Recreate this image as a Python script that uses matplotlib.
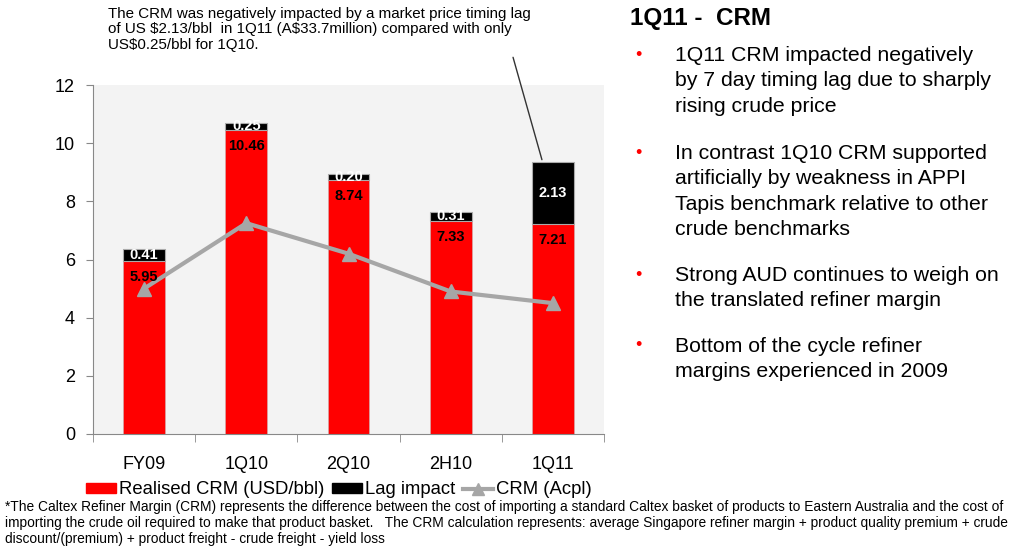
import matplotlib.pyplot as plt
from matplotlib.patches import Patch
from matplotlib.lines import Line2D

plt.rcParams['font.family'] = ['Liberation Sans', 'DejaVu Sans']
plt.rcParams['text.parse_math'] = False

periods = ['FY09', '1Q10', '2Q10', '2H10', '1Q11']
realised = [5.95, 10.46, 8.74, 7.33, 7.21]
lag = [0.41, 0.25, 0.20, 0.31, 2.13]
crm_acpl = [5.0, 7.25, 6.2, 4.9, 4.5]

bullets = [
    "1Q11 CRM impacted negatively\nby 7 day timing lag due to sharply\nrising crude price",
    "In contrast 1Q10 CRM supported\nartificially by weakness in APPI\nTapis benchmark relative to other\ncrude benchmarks",
    "Strong AUD continues to weigh on\nthe translated refiner margin",
    "Bottom of the cycle refiner\nmargins experienced in 2009",
]
note = ("The CRM was negatively impacted by a market price timing lag\n"
        "of US $2.13/bbl  in 1Q11 (A$33.7million) compared with only\n"
        "US$0.25/bbl for 1Q10.")
footnote = ("*The Caltex Refiner Margin (CRM) represents the difference between the cost of importing a standard Caltex basket of products to Eastern Australia and the cost of\n"
            "importing the crude oil required to make that product basket.   The CRM calculation represents: average Singapore refiner margin + product quality premium + crude\n"
            "discount/(premium) + product freight - crude freight - yield loss")

W, H = 1016, 548
fig = plt.figure(figsize=(W / 100, H / 100), dpi=100)
ax = fig.add_axes([93 / W, (H - 434) / H, (604 - 93) / W, (434 - 85) / H])
ax.set_facecolor('#f3f3f3')

x = list(range(len(periods)))
bw = 0.41
ax.bar(x, realised, bw, color='#ff0000', edgecolor='#d9a0a0', linewidth=0.6, zorder=2)
ax.bar(x, lag, bw, bottom=realised, color='#000000', edgecolor='#aaaaaa', linewidth=0.8, zorder=2)
ax.plot(x, crm_acpl, color='#a6a6a6', lw=3, marker='^', ms=10, zorder=4)

for i in x:
    ax.text(i, realised[i] - 0.3, f"{realised[i]:.2f}", ha='center', va='top',
            fontsize=10.5, fontweight='bold', color='black', zorder=5)
    ax.text(i, realised[i] + lag[i] / 2, f"{lag[i]:.2f}", ha='center', va='center',
            fontsize=10.5, fontweight='bold', color='white', zorder=5)

ax.set_xlim(-0.5, len(periods) - 0.5)
ax.set_ylim(0, 12)
ax.set_yticks(range(0, 13, 2))
ax.set_xticks(x)
ax.set_xticklabels(periods)
ax.set_xticks([i - 0.5 for i in range(len(periods) + 1)], minor=True)
ax.tick_params(axis='x', which='major', length=0, pad=16, labelsize=13)
ax.tick_params(axis='x', which='minor', length=6, color='#888888', direction='out')
ax.tick_params(axis='y', length=5, color='#888888', labelsize=13, pad=8)
for s in ['top', 'right']:
    ax.spines[s].set_visible(False)
for s in ['left', 'bottom']:
    ax.spines[s].set_color('#888888')

ax.annotate(note, xy=(3.9, realised[4] + lag[4]), xycoords='data',
            xytext=(108 / W, 1 - 7 / H), textcoords='figure fraction',
            ha='left', va='top', fontsize=10.9, linespacing=1.13,
            arrowprops=dict(arrowstyle='-', color='#333333', lw=1,
                            relpos=(0.95, 0.15)))

fig.text(630 / W, 1 - 18 / H, "1Q11 -  CRM", fontsize=17.5, fontweight='bold', va='center')
ys = [55, 153, 275, 346]
for yy, b in zip(ys, bullets):
    fig.text(635 / W, 1 - yy / H, "\u2022", color='#ff0000', fontsize=13, va='center')
    fig.text(675 / W, 1 - (yy - 9) / H, b, fontsize=15.3, va='top', linespacing=1.43)

handles = [Patch(color='#ff0000'), Patch(color='#000000'),
           Line2D([], [], color='#a6a6a6', lw=3, marker='^', ms=8)]
fig.legend(handles, ['Realised CRM (USD/bbl)', 'Lag impact', 'CRM (Acpl)'],
           loc='center left', bbox_to_anchor=(86 / W, 1 - 490 / H), ncol=3,
           frameon=False, fontsize=13.3, handlelength=1.65, handleheight=0.5,
           handletextpad=0.15, columnspacing=0.4, borderpad=0, borderaxespad=0)

fig.text(5 / W, 1 - 500 / H, footnote, fontsize=9.9, va='top', linespacing=1.2)

fig.savefig('out.png', dpi=100)
